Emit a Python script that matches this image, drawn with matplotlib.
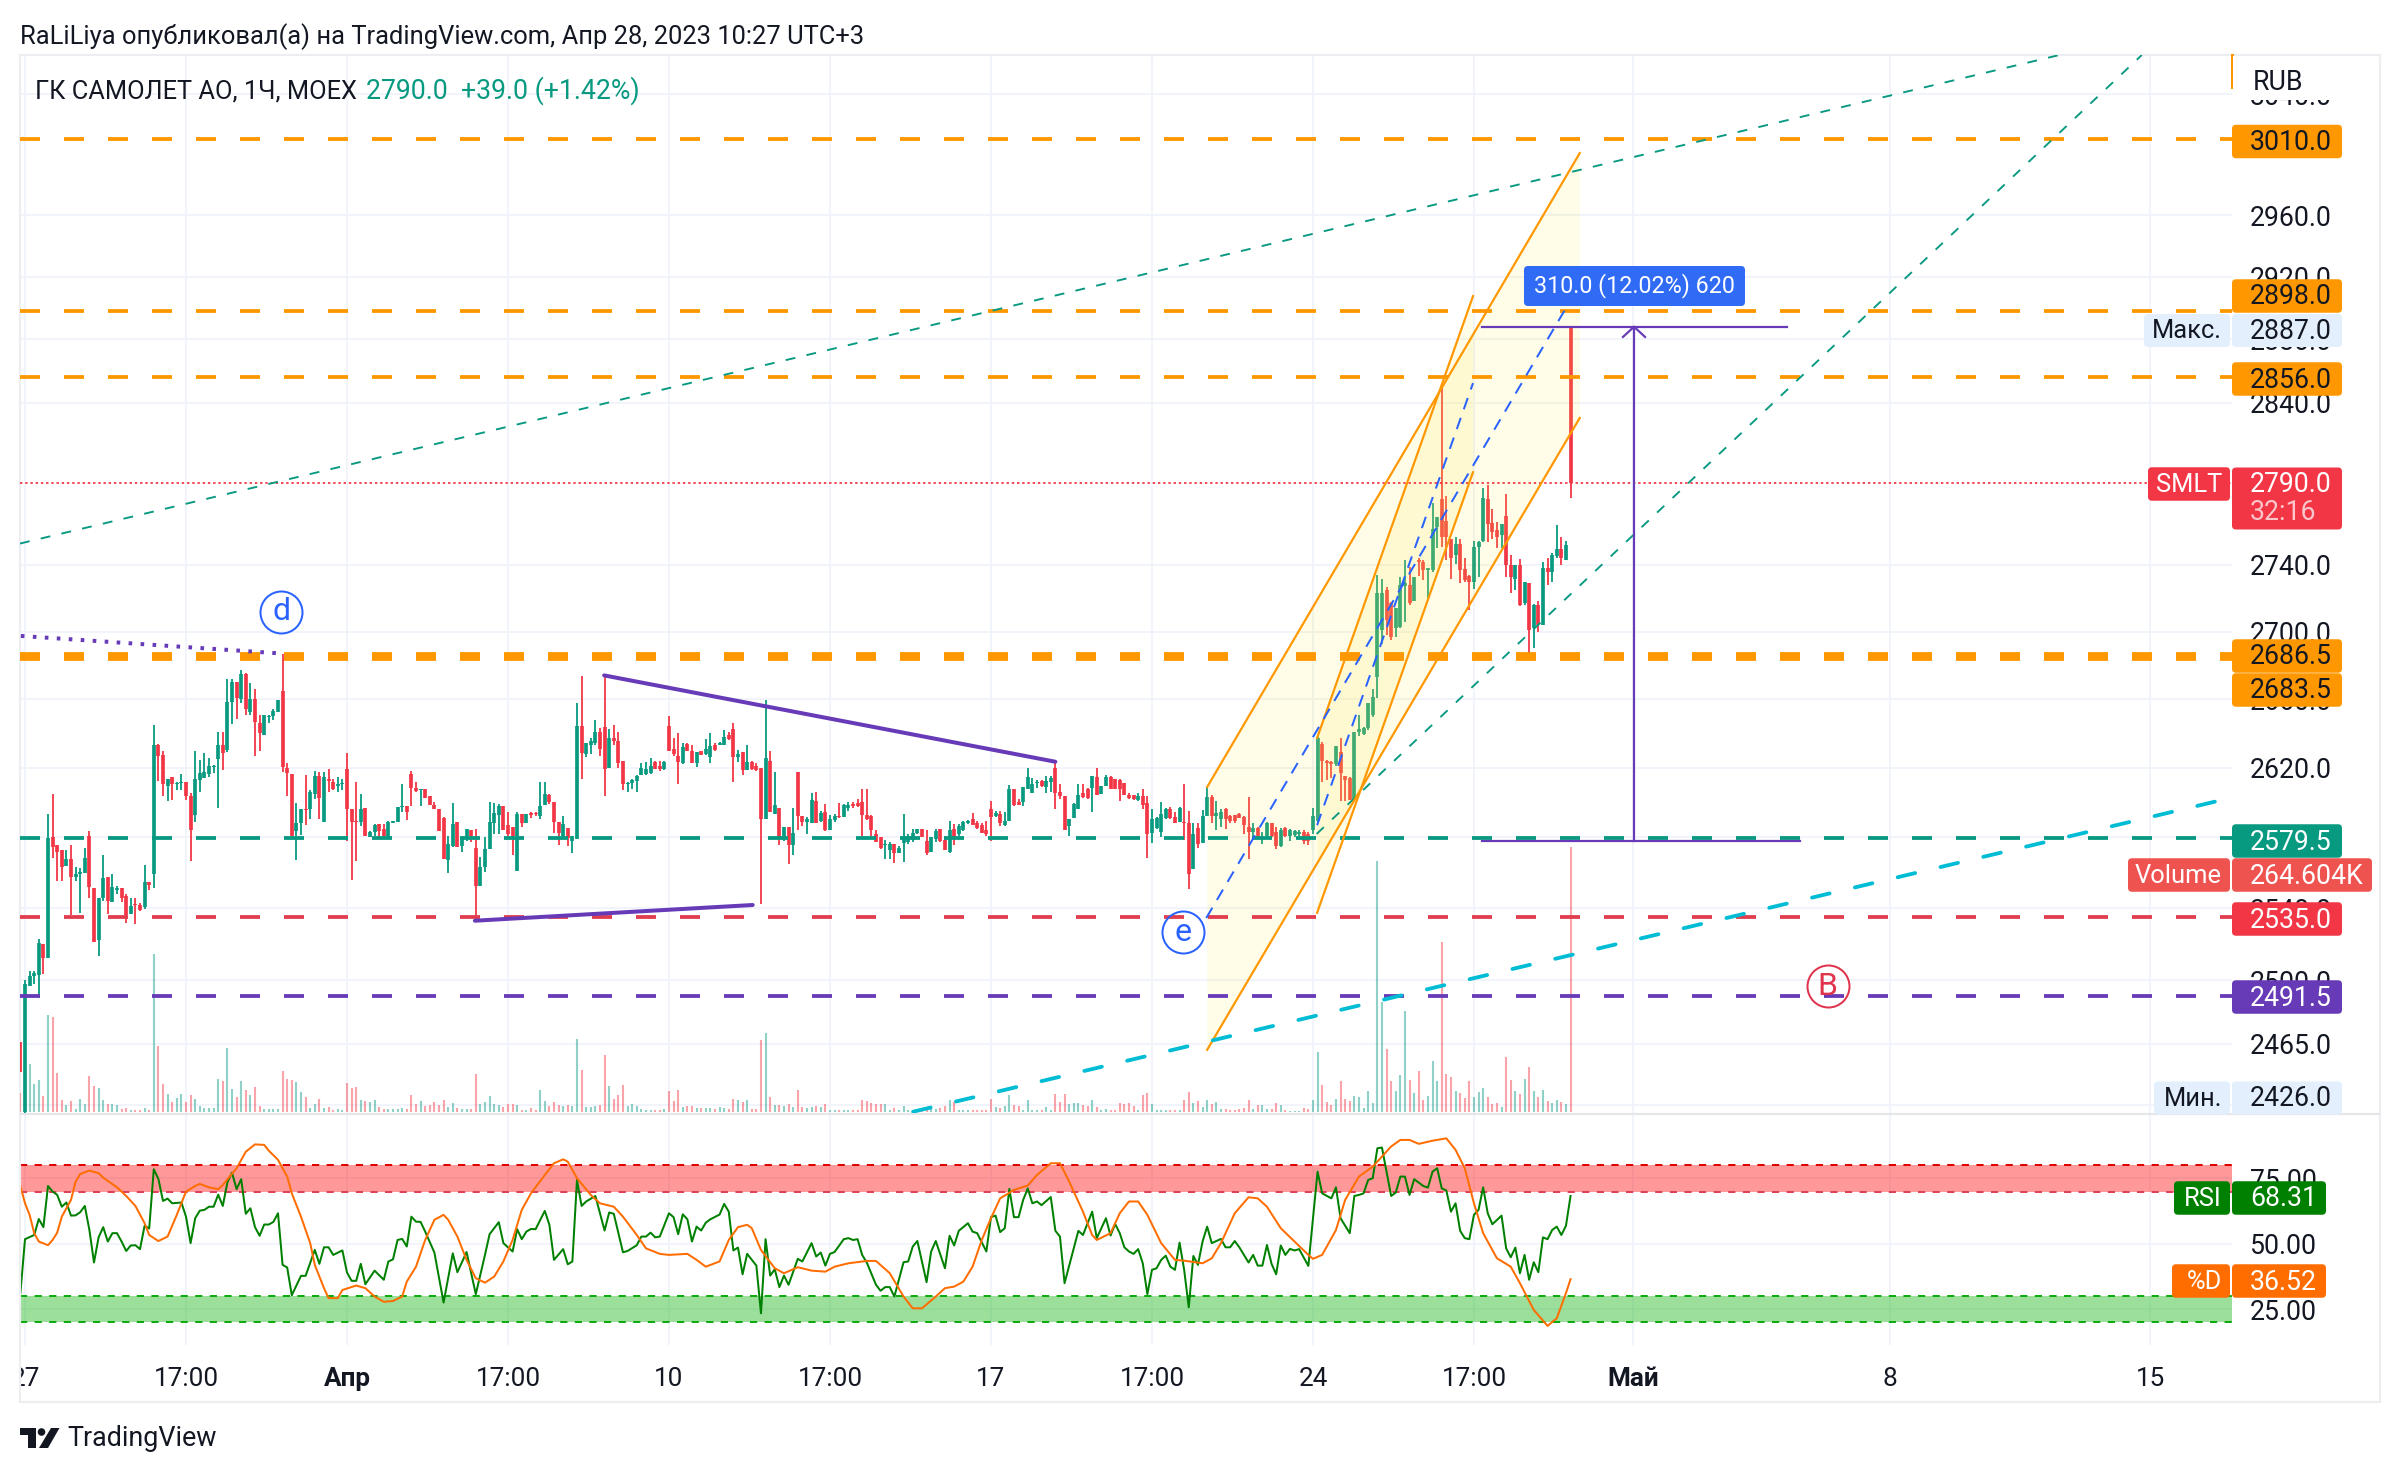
#!/usr/bin/python3

import matplotlib
matplotlib.use('Agg')
import matplotlib.pyplot as plt
import numpy as np
from matplotlib.patches import FancyBboxPatch, Rectangle, Circle, Polygon
from matplotlib.ticker import NullLocator
from matplotlib.transforms import IdentityTransform, Bbox

plt.rcParams['font.family'] = ['Roboto', 'DejaVu Sans']

W, H = 2400, 1472
DPI = 200

# hourly candles, first bar sits just before the 27 March session
opens = [2466,2428,2497,2502,2503,2520,2512.5,2580,2575.5,2573,
    2564,2568,2557.5,2559,2560,2581,2551.5,2522,2546,2557.5,
    2543.5,2550.5,2551.5,2547,2536.5,2542.5,2542,2540.5,2555,2559.5,
    2633.5,2627.5,2609.5,2614.5,2610.5,2611,2611.5,2603.5,2593,2613,
    2614,2616.5,2620.5,2625,2633.5,2630.5,2658.5,2670,2660,2675,
    2652.5,2660,2646,2639,2649.5,2650,2652.5,2665,2620,2616.5,
    2583.5,2588,2596,2596,2605,2615,2589,2613.5,2612,2609.5,
    2610.5,2619.5,2596.5,2589.5,2589,2597,2580.5,2583,2587.5,2585,
    2580,2588.5,2589,2597.5,2598,2616.5,2608.5,2607,2607.5,2603.5,
    2598.5,2596.5,2591,2567,2575,2589,2575,2579.5,2584.5,2574,
    2552.5,2563,2573.5,2588.5,2593,2598,2587,2586,2561,2593.5,
    2588.5,2594,2594,2592.5,2598.5,2604.5,2600,2589,2581,2585.5,
    2578,2579,2644,2628,2633,2634.5,2641,2643.5,2620,2637,
    2635.5,2624,2610.5,2611,2612.5,2616,2616.5,2617,2623.5,2621,
    2619.5,2644,2631,2627,2622.5,2634,2630,2623,2629.5,2628,
    2626,2633,2633,2633,2639,2642.5,2626.5,2629,2619,2623.5,
    2621,2620,2590.5,2624,2593.5,2597,2579,2586,2575.5,2617.5,
    2592.5,2589,2588.5,2601,2589.5,2594.5,2584.5,2590,2592.5,2591.5,
    2597,2599,2599.5,2600.5,2593,2592,2582,2580.5,2575.5,2573,
    2576,2571,2577,2577.5,2578.5,2582.5,2585,2578,2571.5,2579,
    2585,2578.5,2571.5,2585,2582,2584.5,2588,2590.5,2588.5,2587,
    2584.5,2596,2592,2593.5,2587,2589.5,2607.5,2600.5,2600,2608,
    2605.5,2611,2612.5,2609,2611.5,2620,2606,2603.5,2586.5,2591,
    2596,2605.5,2608,2608.5,2614.5,2605,2609.5,2614.5,2613.5,2613,
    2611,2604.5,2604.5,2601.5,2603.5,2599.5,2582.5,2585.5,2583,2591,
    2596,2591.5,2589,2589,2588.5,2562,2585.5,2577,2592.5,2603,
    2592.5,2590.5,2596,2592.5,2593,2593.5,2591.5,2586,2583,2585.5,
    2579,2581,2588,2583,2575,2585.5,2581,2581.5,2582,2583,
    2582,2584.5,2589.5,2634,2624,2623.5,2622,2629,2615,2614,
    2602,2641,2639.5,2643,2650.5,2673,2701,2725,2717,2702,
    2702.5,2727.5,2728,2718,2743,2742,2737,2737,2763,2780,
    2767,2756,2746,2753,2737.5,2733.5,2730,2751,2754.5,2780,
    2765.5,2761,2758,2770,2740,2731.5,2740,2717,2729,2702,
    2716,2704,2738,2735.5,2745.5,2749.5,2743,2887]
highs = [2466,2500,2505,2505,2522.8,2520,2593.3,2604.9,2575.5,2573,
    2573,2575.5,2563,2562.5,2574,2583.5,2551.5,2546,2570,2557.5,
    2559,2552.5,2551.5,2548,2546,2546,2543,2564.5,2555,2645,
    2634,2630,2613.5,2614.5,2611.5,2616.5,2611.5,2605.5,2630,2624.5,
    2628.5,2625.5,2621.5,2640.5,2641,2672,2672,2670,2677,2675.5,
    2669.5,2666,2650.5,2650.5,2650.5,2654,2659.5,2686.5,2623,2616.5,
    2599.5,2596,2616,2607,2618,2617.5,2617.5,2619.5,2613.5,2614.5,
    2613.5,2628.5,2596.5,2612,2605,2597,2583.5,2587.5,2587.5,2587.5,
    2589.5,2589.5,2597.5,2610.5,2598,2618,2612,2607.5,2608,2603.5,
    2600.5,2596.5,2591.5,2581,2599.5,2589,2580.5,2585,2584.5,2585,
    2569,2580,2600.5,2599.5,2599,2598,2594.5,2586,2594.5,2593.5,
    2593.5,2594.5,2594.5,2612,2612,2605,2600,2589,2592,2585.5,
    2581,2657.5,2673.5,2634.5,2637.5,2647.5,2643,2674,2642.5,2645,
    2640.5,2624,2611.5,2613.5,2616,2623,2623.5,2625.5,2624,2624,
    2624,2650,2637.5,2640,2634.5,2634.5,2633.5,2629,2630,2636.5,
    2640,2634.5,2635,2642,2640.5,2646,2630.5,2629,2633.5,2624,
    2622.5,2620,2659.5,2629.5,2617.5,2597,2586,2586,2597,2617.5,
    2592.5,2591.5,2605.5,2606,2595,2599,2593,2593.5,2599.5,2599,
    2600,2600.5,2602,2608,2608,2593,2584.5,2580.5,2578.5,2577.5,
    2576.5,2575,2593.5,2582,2585,2585,2585,2584.5,2580,2585,
    2585,2580,2589.5,2587.5,2587.5,2589.5,2590,2594,2589.5,2588,
    2589.5,2601,2595,2595,2594.5,2610,2608,2602,2609,2620,
    2614,2613,2613,2615,2615.5,2624,2610.5,2603.5,2590.5,2599.5,
    2610.5,2610.5,2608.5,2615.5,2620,2609.5,2616,2615,2613.5,2613.5,
    2611,2605.5,2604.5,2605.5,2608,2603.5,2596,2591.5,2600,2597,
    2597.5,2594.5,2597.5,2610.5,2595,2588.5,2588,2595.5,2609,2604.5,
    2601,2596.5,2597,2593,2593,2594,2592,2603,2588.5,2586,
    2583,2589,2588.5,2586,2585.5,2586,2585,2584.5,2584,2584,
    2583,2597,2638.5,2635,2624.5,2624,2632.5,2637,2615.5,2614.5,
    2640.5,2650.5,2643.5,2658,2666,2734,2731.5,2727,2717.5,2714,
    2733,2743,2739,2733,2744,2743,2738,2777.5,2769,2849,
    2782,2756,2757,2756,2744.5,2734,2754.5,2754.5,2787,2789,
    2774,2766,2765,2783,2746,2740,2743.5,2730,2729,2716.5,
    2718,2742,2744.5,2747,2764,2757,2754.5,2887]
lows = [2450,2427,2497,2498,2490,2503.5,2512.5,2568.4,2555.5,2555.5,
    2564,2536,2555.5,2537.5,2560,2546,2521,2513.5,2544,2537,
    2543.5,2548,2543.5,2532,2536.5,2531,2538.5,2539.5,2550,2551.5,
    2612.5,2604,2601,2601.5,2607,2607,2601.5,2566.5,2589,2606,
    2614,2614.5,2617,2597,2618.5,2629,2645.5,2648.5,2658,2650.5,
    2650.5,2627,2629.5,2639,2646,2648,2652.5,2617.5,2603.5,2581,
    2567,2581.5,2587,2590.5,2602,2590.5,2589,2606,2607,2606,
    2607,2578,2556,2566.5,2586.5,2581,2580,2581,2580.5,2580.5,
    2579.5,2588,2589,2594.5,2590,2598,2606,2598,2602.5,2598.5,
    2596,2583.5,2567.5,2560,2574.5,2574.5,2572,2578,2577.5,2533,
    2552.5,2560.5,2573.5,2582,2582,2584.5,2581,2570,2561,2586,
    2588.5,2591,2592,2590.5,2598.5,2599,2582.5,2575.5,2579,2575,
    2571,2579,2613.5,2626,2628,2633.5,2627,2603.5,2620,2633.5,
    2620,2607,2606,2608,2606,2616,2616,2616.5,2619.5,2618,
    2619,2630,2627,2610.5,2622,2629.5,2623,2620.5,2627.5,2627.5,
    2623,2630,2633,2633,2636,2612,2623.5,2616,2619,2619,
    2618,2542.5,2590.5,2594.5,2593.5,2575.5,2578,2565,2570,2584.5,
    2586.5,2582,2588.5,2588.5,2589,2583.5,2584.5,2589,2591,2591.5,
    2595,2597,2597.5,2581,2590,2580.5,2577.5,2573.5,2567.5,2567.5,
    2565.5,2571,2566,2576.5,2577.5,2582,2580,2570,2571.5,2577.5,
    2577.5,2573,2571,2575.5,2581,2583.5,2587.5,2587,2585,2582.5,
    2581,2578,2591.5,2586.5,2586.5,2589.5,2598,2598.5,2598,2608,
    2605.5,2608.5,2609,2605.5,2606,2596,2602,2584.5,2581,2591,
    2596,2602.5,2602,2594.5,2604.5,2605,2609.5,2608,2607.5,2601,
    2604.5,2602,2601.5,2601,2596,2568.5,2577,2585,2580.5,2590.5,
    2590.5,2588.5,2589,2578.5,2551,2562,2574,2577,2592,2588.5,
    2584.5,2586,2585,2588,2588.5,2591,2582,2567.5,2579,2579,
    2576,2580,2580.5,2573.5,2574.5,2580.5,2578,2580.5,2581,2576,
    2575.5,2582,2588.5,2611.5,2613,2614,2621,2601,2601,2601.5,
    2601.5,2638.5,2639,2642,2649.5,2660.5,2692.5,2698,2695,2697,
    2702,2706,2716,2718,2733.5,2731,2720,2736,2750,2751,
    2743,2731.5,2740.5,2729,2730,2713,2725.5,2733,2754,2754,
    2756,2750,2750,2732.5,2723,2725,2715,2716,2687,2690,
    2700,2704,2728,2729.5,2744,2740,2743,2781]
closes = [2450,2498,2502,2504,2520.5,2512.5,2579.5,2574.7,2572,2563,
    2568,2557.5,2559,2560.5,2568.5,2552,2521,2546,2557,2544,
    2552,2551.5,2546,2536,2541.5,2542,2539,2555,2553,2633.5,
    2627,2610.5,2613.5,2610.5,2611,2612,2603.5,2584.5,2613.5,2617,
    2617.5,2621,2621,2633.5,2628.5,2658.5,2670,2660.5,2675,2654,
    2660,2646.5,2640,2650.5,2650,2653,2659.5,2620.5,2617,2581,
    2588.5,2596,2595.5,2606,2615,2602.5,2614.5,2612.5,2608,2610.5,
    2611,2596,2589,2589,2596.5,2581,2583,2587,2583.5,2581,
    2589,2589.5,2597.5,2598,2594.5,2608.5,2606.5,2607.5,2602.5,2598.5,
    2596,2583.5,2567.5,2576,2587.5,2574.5,2580,2585,2581,2552.5,
    2563,2573.5,2589,2594,2598,2584.5,2582,2581,2593.5,2588,
    2593.5,2593,2593.5,2598,2605,2600,2589,2582.5,2587.5,2579.5,
    2581,2644,2628.5,2634.5,2635.5,2641,2631,2619.5,2637,2635.5,
    2623,2610.5,2611,2613,2615,2620,2619.5,2621,2619.5,2619.5,
    2623.5,2630,2628,2623.5,2632,2630,2623,2629,2627.5,2631,
    2632.5,2630.5,2634.5,2638,2636.5,2626.5,2628,2619,2623.5,2619.5,
    2619,2590.5,2625.5,2594.5,2598.5,2579,2586,2575.5,2582.5,2592.5,
    2589,2590.5,2601.5,2588.5,2594,2584.5,2590.5,2592.5,2591.5,2598.5,
    2598.5,2598,2598,2593,2590.5,2584.5,2577.5,2574,2576.5,2576.5,
    2571,2574,2580.5,2581,2582.5,2585,2580.5,2571,2580,2583.5,
    2578,2573,2584.5,2580.5,2586.5,2589,2589.5,2587,2585.5,2582.5,
    2582,2591.5,2594,2588.5,2589.5,2607.5,2598.5,2598.5,2609,2614.5,
    2610.5,2612,2609.5,2612.5,2614,2605.5,2603.5,2584.5,2590.5,2599,
    2604.5,2603,2602.5,2615,2604.5,2609.5,2614.5,2608,2607.5,2608,
    2604.5,2602.5,2602,2604,2598.5,2582,2590.5,2591,2593.5,2596,
    2591,2588.5,2597,2588,2559.5,2582,2576.5,2592.5,2603,2592,
    2594,2594.5,2590.5,2589.5,2589.5,2591,2587,2583,2585.5,2581,
    2581,2588.5,2581,2575,2584.5,2581,2584.5,2583.5,2583,2578,
    2578,2592.5,2637.5,2624,2623,2622,2632.5,2617,2613,2601.5,
    2640.5,2642.5,2643,2657.5,2661,2723,2723,2707,2696.5,2714,
    2728,2729,2717,2733,2741.5,2737,2738,2762,2769,2757,
    2757,2744,2753,2737,2731,2729.5,2751,2754,2781,2765,
    2760,2757,2765,2740,2732.5,2740,2716,2730,2701,2716,
    2704,2738,2735.5,2746,2749.5,2744,2752,2790]
# volume in thousands
volumes = [19,40,48,28,32,16,97,95,39,12,
    7,11,3,13,8,36,26,24,12,8,
    8,7,3,4,2,2,2,4,2,158,
    66,28,18,10,14,18,10,17,13,6,
    4,4,4,33,31,64,23,15,31,22,
    17,25,6,3,3,3,3,41,33,32,
    30,20,15,4,8,13,4,5,2,3,
    2,29,24,25,12,11,10,12,5,3,
    3,3,3,4,3,17,8,11,6,7,
    10,7,12,5,9,4,3,3,3,38,
    8,10,16,8,7,5,8,8,7,2,
    2,4,2,22,11,6,10,7,6,7,
    6,73,42,5,5,6,7,57,26,13,
    17,27,6,8,6,3,2,2,2,2,
    3,21,11,22,5,6,6,4,4,4,
    4,3,5,4,3,13,12,10,12,3,
    3,72,79,15,7,7,6,8,5,22,
    5,4,5,6,5,8,2,2,2,2,
    2,2,2,12,11,9,8,8,8,2,
    4,2,6,2,2,2,1,3,4,3,
    4,6,12,10,2,2,2,2,2,2,
    2,13,5,4,6,17,7,6,2,12,
    2,2,2,5,2,18,10,18,8,9,
    9,7,6,12,5,2,3,2,2,9,
    8,9,6,2,17,19,8,2,2,2,
    2,2,2,12,20,9,11,5,12,8,
    10,3,3,2,2,3,4,12,3,7,
    7,3,3,9,7,2,1.5,1.5,1.5,4,
    3,12,60,27,10,7,13,31,13,11,
    16,15,4,21,9,251,110,63,31,21,
    37,101,32,19,41,12,16,51,31,170,
    38,35,21,19,14,31,15,20,24,15,
    8,9,5,55,32,21,18,33,45,21,
    15,22,11,9,12,10,8,264.604]

# RSI turning points
rsi_bars = [-1,0,2,3,4,5,6,7,8,9,10,11,12,13,14,15,16,17,18,19,20,21,22,23,24,25,26,27,28,29,30,31,32,34,35,36,37,38,39,40,41,42,43,44,45,46,47,48,49,50,
    51,52,53,54,55,56,57,58,60,61,63,64,65,66,67,69,70,71,72,73,74,76,78,79,80,81,82,83,84,85,86,87,89,91,93,94,96,98,100,101,103,104,106,107,108,109,110,111,113,114,
    115,117,118,119,120,121,122,124,125,126,127,128,130,131,133,134,135,136,137,138,140,141,142,143,144,145,146,147,148,149,151,152,153,154,155,156,157,159,160,161,162,163,164,165,166,168,
    169,171,172,173,174,175,176,178,179,180,181,182,183,185,186,187,188,189,191,192,193,194,196,197,198,200,201,202,203,205,206,207,209,210,211,212,213,214,215,216,217,218,219,220,221,223,224,225,226,229,230,232,233,235,236,237,238,239,240,241,242,243,244,245,246,247,248,249,250,251,252,253,254,255,256,257,258,260,261,262,263,264,266,267,268,269,270,271,272,273,274,275,276,277,279,
    281,282,284,285,286,288,289,290,291,292,293,294,295,297,298,299,300,301,302,304,305,306,307,308,309,310,311,312,313,314,315,316,317,318,319,321,322,323,324,325,326,327,328,329,330,331,332,333,334,335,336]
rsi_vals = [31.2,51.8,53.4,59.5,56.4,72.1,70,68.7,64.2,65.8,60.8,60.9,62.1,64.5,55.3,42.9,52.5,56.4,50.9,54.1,54.1,50.9,47.3,49.4,49.5,48,56.9,55.9,78.5,74.8,66.4,67.3,65.5,65.8,60.4,50.3,59.8,62.7,63,64.2,64.2,68.8,64.5,73.5,77.2,70.9,74.7,61.5,63.6,56.4,
    53.1,57.4,57.4,58.4,61.7,42,41,30.4,37.8,37.8,47.7,42.4,48.7,48.7,45.8,47.5,39.1,35.9,35.9,42.4,34.6,39.8,36.3,43.3,44.1,51.5,51.9,49,60.4,58.5,58.4,54.7,46.7,27.6,46.4,39.2,46.9,30.8,45.8,53.7,58.3,50.3,47.1,55.6,51.8,54.7,55.7,55.6,62.6,57.3,
    43.9,48,42.2,43.3,74.4,64.5,66.2,68.3,61.7,55.1,62,61.5,46.8,47.3,49.5,52.8,52.8,54.3,52.5,52.8,61.7,60.2,53.7,61.3,59.4,50.9,56.6,55.1,58.1,59.4,61.2,65.3,62.3,47.5,48.6,38.4,46.2,41.7,23.5,51.8,37.9,40.3,33.5,37.9,34.4,44.3,
    43.3,50.3,45.2,46.7,41.7,46.2,46.9,51.8,52.2,51.5,51.8,45.8,42.9,34.4,32.1,33.5,33.5,29.9,43,43.3,49,51.1,35.4,47.1,51.1,40.7,53.1,49.4,55,57.9,54.7,54.1,47.1,60.2,60.8,54.5,56,71,60.2,60.2,66.8,71.2,65.5,66.2,64.8,67.9,55,52.8,35,55,53.4,62.3,52.2,59.8,53.2,57.6,54.1,48.7,47.1,46.2,48,42.6,30.8,40.1,40.7,43.9,45.5,41.3,40.1,50.5,40.1,25.8,45.4,42,50.9,56.6,50.3,51.9,48.7,48.7,51.1,48.7,42.9,45.8,41.7,41.7,49.6,42.4,38.4,49.4,45.8,48.1,47.5,48,41.6,
    77.6,69.3,67.4,71.6,59.8,54.1,68.3,68.7,69.3,74.4,75.1,86.5,86.8,68.3,69.6,75.7,75.7,68.7,74.7,72.1,71.5,77.6,78.9,71.2,70.4,62.3,65.5,55,52.2,51.8,61.1,63,71.6,61.7,57.5,60.8,48.3,44.9,48.6,38.8,45.8,36.3,43,39.2,52.5,51.8,55.3,56.6,53.4,56.9,68.31]

# stochastic %D, smooth so only its shape points are listed
stoch_bars = [-1,0,1,2,3,5,6,7,8,10,11,12,14,16,17,20,22,24,26,27,29,31,33,35,37,38,40,42,43,46,48,50,52,53,55,57,58,60,62,63,65,66,68,69,72,74,76,78,80,82,83,85,87,89,91,92,94,96,98,100,102,104,106,108,110,113,115,117,118,120,123,125,128,130,133,135,138,140,144,146,148,151,153,155,157,158,160,163,165,168,
    171,174,176,179,183,185,188,191,193,195,198,200,202,204,206,208,210,212,215,218,220,223,225,227,230,232,233,236,238,240,242,244,247,250,252,256,258,260,263,266,268,270,273,276,279,280,282,285,287,290,293,297,299,301,303,306,309,311,313,315,317,320,323,325,328,331,333,335,336]
stoch_vals = [72.1,65.5,61.1,54.1,50.9,49.5,51.5,54.3,60.4,66.8,73.8,76.7,78,77,75.3,71.6,68.3,64.5,57.9,53.4,51.1,52.8,61.1,70,72.1,72.9,71.6,70.9,72.5,78.9,85.2,88,87.8,85.6,82.1,75.7,69.3,60.4,50.3,42,33.1,29.3,29.3,32.4,34.1,33.1,29.9,27.9,28.2,29.9,35.6,41.3,51.5,59.2,61.1,59.2,52.8,43.9,36.9,35.2,37.5,43.3,51.5,63,69.3,76.3,80.8,82.3,81.4,75.1,68.7,65.5,64.2,60.4,53.4,48.3,46.2,45.8,46.2,43.9,41.3,43.3,51.5,56.4,57.3,56,47.7,40.7,38.8,41.1,
    39.8,39.4,41.3,42.6,43.5,43.5,38.8,29.9,25.4,25.4,29.9,33.1,33.7,35.6,41.3,51.5,59.8,67.4,70.6,72.3,76.3,80.8,80.8,73.8,62.3,53.4,51.5,54.1,61.7,66.2,66.2,61.1,50.3,43.9,43.6,42.6,44.5,50.3,61.7,67.8,67.4,64.2,56,50.9,45.8,44.3,45.8,55.3,66.8,75.7,79.5,87.2,89.7,89.7,88.2,89.4,90.3,85.9,78.9,65.5,54.1,44.5,41.3,35,24.8,18.7,21.6,31.2,36.52]

# horizontal levels with their colours
levels = [3010.0, 2898.0, 2856.0, 2686.5, 2683.5, 2579.5, 2535.0, 2491.5]
level_colors = ['#ff9800', '#ff9800', '#ff9800', '#ff9800', '#ff9800', '#089981', '#e03e4e', '#673ab7']
level_text = ['#131722', '#131722', '#131722', '#131722', '#131722', 'white', 'white', 'white']
level_rows = [139.5, 294, 377, 654, 688, 839, 917, 995]

price_ticks = [2432, 2465, 2500, 2540, 2580, 2620, 2660, 2700, 2740, 2840, 2880, 2920, 2960, 3040]
rsi_ticks = [25, 50, 75]
time_bars = [0, 35, 70, 105, 140, 175, 210, 245, 280, 315, 349.6, 405.4, 462]
time_labels = ['27', '17:00', 'Апр', '17:00', '10', '17:00', '17', '17:00', '24', '17:00', 'Май', '8', '15']
bold_labels = ['Апр', 'Май']

GREEN = '#089981'
RED = '#f23645'
INK = '#131722'
GRID = '#f0f3fa'


def lw(pixels):
    return pixels * 72.0 / DPI


def box(x0, x1, yc, h, color):
    fig.add_artist(FancyBboxPatch((x0, H - yc - 2 - h / 2), x1 - x0, h,
                                  boxstyle='round,pad=0,rounding_size=4', transform=IdentityTransform(),
                                  facecolor=color, edgecolor='none', zorder=5))


def label(x, y, text, color=INK, size=9.6, ha='left', weight='normal'):
    return fig.text(x, H - y - 3, text, transform=IdentityTransform(), color=color, fontsize=size,
                    ha=ha, va='center', fontweight=weight, zorder=6)


fig = plt.figure(figsize=(W / DPI, H / DPI), dpi=DPI, facecolor='white')
ax = fig.add_axes([20 / W, 1 - 1113 / H, 2212 / W, 1058 / H])
ax_rsi = fig.add_axes([20 / W, 1 - 1345 / H, 2212 / W, 231 / H])
ax_vol = ax.twinx()

bars = np.arange(-1, len(closes) - 1)
o = np.array(opens)
c = np.array(closes)
rising = c >= o
colors = [GREEN if r else RED for r in rising]

xleft, xright = -1.087, 479.8
ax.set_yscale('log')
ax.set_xlim(xleft, xright)
ax.set_ylim(2427.7, 3066.6)
ax_rsi.set_xlim(xleft, xright)
ax_rsi.set_ylim(11.4, 99.6)
ax_vol.set_ylim(-1, 1057)
ax_vol.set_xlim(xleft, xright)

# grids
ax.set_yticks(price_ticks)
ax.yaxis.set_minor_locator(NullLocator())
ax.set_yticklabels(['' if t == 2432 else '%.1f' % t for t in price_ticks])
ax.yaxis.tick_right()
ax.tick_params(axis='y', length=0, pad=6.5, labelsize=9.6, labelcolor=INK, right=False)
ax.set_xticks(time_bars)
ax.tick_params(axis='x', length=0, labelbottom=False)
ax.grid(True, color=GRID, lw=lw(1.8), zorder=0)
ax.set_axisbelow(True)

ax_rsi.set_yticks(rsi_ticks)
ax_rsi.set_yticklabels(['%.2f' % t for t in rsi_ticks])
ax_rsi.yaxis.tick_right()
ax_rsi.tick_params(axis='y', length=0, pad=6.5, labelsize=9.6, labelcolor=INK)
ax_rsi.set_xticks(time_bars)
ax_rsi.set_xticklabels(time_labels)
ax_rsi.tick_params(axis='x', length=0, pad=8, labelsize=9.4, labelcolor=INK)
ax_rsi.grid(True, color=GRID, lw=lw(1.8), zorder=0)
ax_rsi.set_axisbelow(True)
for tick in ax_rsi.get_xticklabels():
    if tick.get_text() in bold_labels:
        tick.set_fontweight('bold')
# the first day label runs off the pane edge
first = ax_rsi.get_xticklabels()[0]
first.set_clip_on(True)
first.set_clip_box(Bbox([[20, 0], [200, H]]))

for a in (ax, ax_rsi, ax_vol):
    for s in a.spines.values():
        s.set_visible(False)
ax_vol.set_yticks([])
ax_vol.patch.set_visible(False)
ax_vol.set_zorder(ax.get_zorder() + 1)

# volume under the price bars
ax_vol.vlines(bars, 0, volumes, colors=colors, lw=lw(2.1), alpha=0.45, capstyle='butt', zorder=1)

# candles
ax_vol.vlines(bars, lows, highs, colors=colors, lw=lw(1.8), capstyle='butt', zorder=2,
              transform=ax.transData)
ax_vol.vlines(bars, np.minimum(o, c), np.maximum(o, c), colors=colors, lw=lw(3.7), capstyle='butt', zorder=2,
              transform=ax.transData)

# parallel channels
for edges in ([(257, 2608.9), (338, 3000.9), (338, 2830.4), (257, 2461.8)],
              [(280.9, 2637.3), (314.8, 2907.6), (314.8, 2796.7), (280.9, 2537.4)]):
    ax_vol.add_patch(Polygon(edges, closed=True, facecolor='#ffeb3b', alpha=0.12, edgecolor='none', zorder=3,
                             transform=ax.transData))
    ax_vol.plot([edges[0][0], edges[1][0]], [edges[0][1], edges[1][1]], color='#ff9800', lw=lw(2.2), zorder=4,
                transform=ax.transData)
    ax_vol.plot([edges[3][0], edges[2][0]], [edges[3][1], edges[2][1]], color='#ff9800', lw=lw(2.2), zorder=4,
                transform=ax.transData)

# levels run up to the price scale
for value, color in zip(levels, level_colors):
    ax_vol.plot([xleft, xright], [value, value], color=color, lw=lw(3.8),
                linestyle=(0, (20 / 3.8, 24 / 3.8)), dash_capstyle='butt', zorder=3, transform=ax.transData)
# seam between the two neighbouring orange levels
ax_vol.plot([xleft, xright], [2685, 2685], color='#ff9800', lw=lw(3.8),
            linestyle=(0, (20 / 3.8, 24 / 3.8)), dash_capstyle='butt', zorder=3, transform=ax.transData)
ax_vol.plot([xleft, xright], [closes[-1], closes[-1]], color=RED, lw=lw(1.8), linestyle=(0, (1.3, 1.6)),
            dash_capstyle='butt', zorder=3, transform=ax.transData)

# trend lines
for xs, ys in (([-1.087, 442.3], [2753, 3066.6]), ([280.8, 460.2], [2582, 3066.6])):
    ax_vol.plot(xs, ys, color=GREEN, lw=lw(1.9), linestyle=(0, (5.2, 6)), zorder=3, transform=ax.transData)
for xs, ys in (([256.8, 335.4], [2534.5, 2901.9]), ([280.9, 314.8], [2587, 2852.3])):
    ax_vol.plot(xs, ys, color='#2962ff', lw=lw(2), linestyle=(0, (6, 4.5)), zorder=4, transform=ax.transData)
ax_vol.plot([192.4, 476.3], [2428, 2600.6], color='#00bcd4', lw=lw(3.8), linestyle=(10.74, (4.74, 6.84)),
            dash_capstyle='round', zorder=4, transform=ax.transData)
ax_vol.plot([-0.9, 55.5], [2697.4, 2687], color='#673ab7', lw=lw(4), linestyle=(0, (0.9, 2.1)), zorder=4,
            transform=ax.transData)
ax_vol.plot([125.9, 224], [2674, 2623.5], color='#673ab7', lw=lw(4), solid_capstyle='round', zorder=4,
            transform=ax.transData)
ax_vol.plot([97.8, 158.2], [2533, 2541.8], color='#673ab7', lw=lw(4), solid_capstyle='round', zorder=4,
            transform=ax.transData)

# price range measure, 310 points from 2578 to 2888
ax_vol.plot([316.7, 383], [2888, 2888], color='#673ab7', lw=lw(2.2), zorder=4, transform=ax.transData)
ax_vol.plot([316.7, 385.9], [2578, 2578], color='#673ab7', lw=lw(2.2), zorder=4, transform=ax.transData)
ax_vol.plot([349.8, 349.8], [2578, 2888], color='#673ab7', lw=lw(2.2), zorder=4, transform=ax.transData)
ax_vol.plot([347.4, 349.8, 352.2], [2881.5, 2888, 2881.5], color='#673ab7', lw=lw(2.2), zorder=4,
            transform=ax.transData)

# wave marks
for bar, price, mark, color in ((55.7, 2711.7, 'd', '#2962ff'), (251.7, 2526.6, 'e', '#2962ff'),
                                (391.9, 2496.7, 'B', '#e0334c')):
    ax_vol.plot([bar], [price], 'o', ms=lw(42), mfc='none', mec=color, mew=lw(2), zorder=5, transform=ax.transData)
    ax_vol.text(bar, price, mark, color=color, fontsize=11.5, ha='center', va='center', zorder=5,
                transform=ax.transData)

# oscillator bands
ax_rsi.axhspan(70, 80, facecolor='#ff0000', alpha=0.4, edgecolor='none', zorder=1)
ax_rsi.axhspan(20, 30, facecolor='#22b922', alpha=0.45, edgecolor='none', zorder=1)
for value, color in ((80, '#e00000'), (70, '#e0405a'), (30, '#10ab10'), (20, '#10ab10')):
    ax_rsi.axhline(value, color=color, lw=lw(2), linestyle=(0, (3.6, 3.7)), dash_capstyle='butt', zorder=2)
ax_rsi.plot(rsi_bars, rsi_vals, color='#008000', lw=lw(2), zorder=3, solid_joinstyle='round')
ax_rsi.plot(stoch_bars, stoch_vals, color='#ff6d00', lw=lw(2), zorder=4, solid_joinstyle='round')

# outer frame and pane divider
fig.add_artist(Rectangle((20, H - 1402), 2360, 1347, transform=IdentityTransform(), fill=False,
                         edgecolor='#eceef2', lw=lw(2.2), zorder=1))
fig.add_artist(Rectangle((20, H - 1114), 2360, 0.1, transform=IdentityTransform(), fill=False,
                         edgecolor='#e4e6ea', lw=lw(2.2), zorder=1))

# price scale tags
fig.add_artist(Rectangle((2232.5, H - 100), 145, 44, transform=IdentityTransform(), facecolor='white',
                         edgecolor='none', zorder=4))
ax_vol.plot([xright, xright], [3066.6, 3045], color='#ff9800', lw=lw(3), clip_on=False, zorder=5,
            transform=ax.transData)
label(2253, 80, 'RUB')
for value, color, ink, row in zip(levels, level_colors, level_text, level_rows):
    box(2232, 2342, row, 33.5, '#f23645' if value == 2535.0 else color)
    label(2250, row, '%.1f' % value, color=ink)

box(2144, 2230, 328.5, 33, '#e3effd')
box(2232, 2342, 328.5, 33, '#e3effd')
label(2222, 328.5, 'Макс.', ha='right', size=9.2)
label(2250, 328.5, '2887.0')

box(2148, 2230, 482, 33.5, RED)
box(2232, 2342, 496.5, 62, RED)
label(2222, 482, 'SMLT', color='white', ha='right', size=9.2)
label(2250, 481.5, '2790.0', color='white')
label(2250, 510, '32:16', color='#fbc6cb')

box(2128, 2230, 873, 33.5, '#ef5350')
box(2232, 2372, 873, 33.5, '#ef5350')
label(2222, 873, 'Volume', color='white', ha='right', size=9.2)
label(2250, 873, '264.604K', color='white')

box(2154, 2230, 1096, 33, '#e3effd')
box(2232, 2342, 1096, 33, '#e3effd')
label(2222, 1096, 'Мин.', ha='right', size=9.2)
label(2250, 1096, '2426.0')

box(2174, 2230, 1196, 33.5, '#008000')
box(2232, 2326, 1196, 33.5, '#008000')
label(2222, 1196, 'RSI', color='white', ha='right', size=9.2)
label(2250, 1196, '68.31', color='white')

box(2172, 2230, 1279, 33.5, '#ff6d00')
box(2232, 2326, 1279, 33.5, '#ff6d00')
label(2222, 1279, '%D', color='white', ha='right', size=9.2)
label(2250, 1279, '36.52', color='white')

# measure bubble
box(1524, 1745, 284, 40, '#2f6bf5')
label(1634.5, 283, '310.0 (12.02%) 620', color='white', size=8.4, ha='center')

# header texts
label(20, 34, 'RaLiLiya опубликовал(а) на TradingView.com, Апр 28, 2023 10:27 UTC+3', size=9.18)
label(35, 88, 'ГК САМОЛЕТ АО, 1Ч, MOEX', size=9.14)
label(366, 88, '2790.0  +39.0 (+1.42%)', color=GREEN, size=9.6)

# footer logo
fig.add_artist(Polygon([(20, H - 1428), (36, H - 1428), (36, H - 1448), (28, H - 1448), (28, H - 1435), (20, H - 1435)],
                       closed=True, transform=IdentityTransform(), facecolor=INK, edgecolor='none'))
fig.add_artist(Circle((41.5, H - 1432), 3.8, transform=IdentityTransform(), facecolor=INK, edgecolor='none'))
fig.add_artist(Polygon([(51, H - 1428), (59.5, H - 1428), (48, H - 1448), (39, H - 1448)],
                       closed=True, transform=IdentityTransform(), facecolor=INK, edgecolor='none'))
label(67, 1435, 'TradingView', size=9.7)

fig.savefig('out.png', dpi=DPI)
